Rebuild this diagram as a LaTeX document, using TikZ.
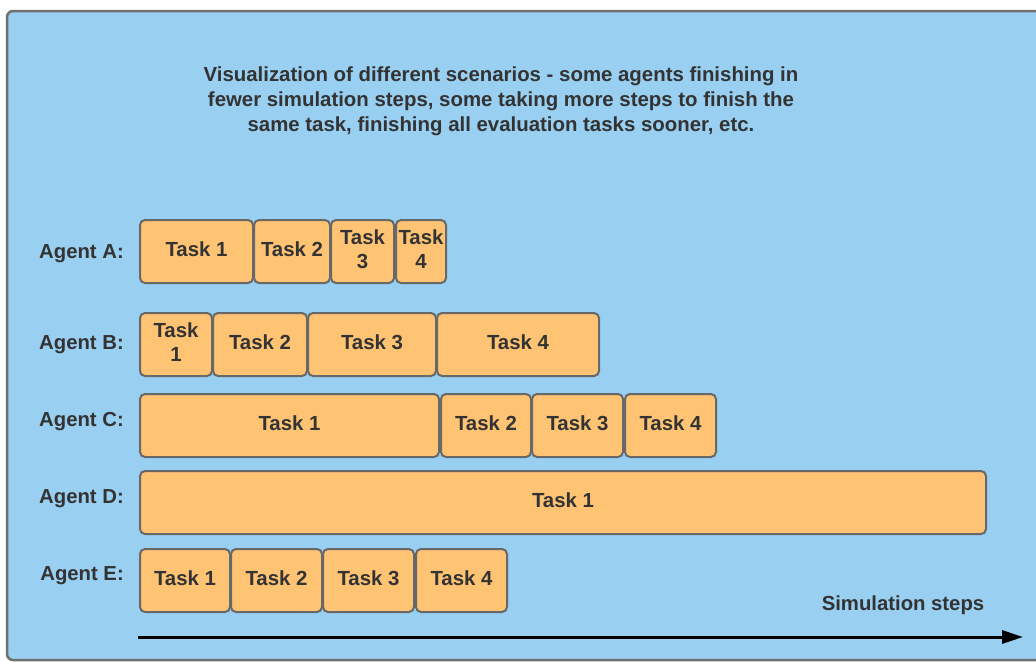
\documentclass[tikz,border=0pt]{standalone}
\usepackage{fontspec}
\setmainfont{Liberation Sans}
\usetikzlibrary{arrows.meta}
\definecolor{bgblue}{RGB}{153,207,241}
\definecolor{frame}{RGB}{112,112,112}
\definecolor{boxfill}{RGB}{255,195,116}
\definecolor{boxline}{RGB}{104,104,104}
\definecolor{txt}{RGB}{51,51,51}
\tikzset{
  lbl/.style={font=\bfseries\fontsize{20.3}{25}\selectfont, text=txt, inner sep=0pt},
  task/.style={draw=boxline, line width=2pt, fill=boxfill, rounded corners=5pt,
    anchor=north west, minimum height=63pt, inner sep=0pt, outer sep=0pt,
    align=center, text depth=4pt, font=\bfseries\fontsize{20.4}{24}\selectfont, text=txt},
  agent/.style={lbl, anchor=east},
  axis/.style={line width=3pt, -{Triangle[length=21pt,width=13pt]}}
}
\newcommand{\tbox}[5]{\node[task, minimum width=#4pt] (#1) at (#2,#3) {#5};}
\begin{document}
\begin{tikzpicture}[x=1pt,y=-1pt]
\useasboundingbox (0,0) rectangle (1036,662);
\begin{scope}
\clip (0,0) rectangle (1036,662);
\draw[frame, line width=2.5pt, fill=bgblue, rounded corners=6pt] (7,11) rectangle (1060,660);
\end{scope}
\node[lbl, align=center, font=\bfseries\fontsize{20.4}{25}\selectfont] (title) at (501,101) {Visualization of different scenarios - some agents finishing in\\fewer simulation steps, some taking more steps to finish the\\same task, finishing all evaluation tasks sooner, etc.};
% Agent A
\node[agent] (agA) at (124,254) {Agent A:};
\tbox{a1}{140}{220}{113}{Task 1}
\tbox{a2}{254}{220}{76}{Task 2}
\tbox{a3}{331}{220}{63}{Task\\3}
\tbox{a4}{396}{220}{50}{Task\\4}
% Agent B
\node[agent] (agB) at (124,345) {Agent B:};
\tbox{b1}{140}{313}{72}{Task\\1}
\tbox{b2}{213}{313}{94}{Task 2}
\tbox{b3}{308}{313}{128}{Task 3}
\tbox{b4}{437}{313}{162}{Task 4}
% Agent C
\node[agent] (agC) at (124,422) {Agent C:};
\tbox{c1}{140}{394}{299}{Task 1}
\tbox{c2}{441}{394}{90}{Task 2}
\tbox{c3}{532}{394}{91}{Task 3}
\tbox{c4}{625}{394}{91}{Task 4}
% Agent D
\node[agent] (agD) at (124,499) {Agent D:};
\tbox{d1}{140}{471}{846}{Task 1}
% Agent E
\node[agent] (agE) at (124,576) {Agent E:};
\tbox{e1}{140}{549}{90}{Task 1}
\tbox{e2}{231}{549}{91}{Task 2}
\tbox{e3}{323}{549}{91}{Task 3}
\tbox{e4}{416}{549}{91}{Task 4}
% axis
\node[lbl] (steps) at (903,605) {Simulation steps};
\coordinate (axs) at (138,637);
\coordinate (axe) at (1023,637);
\draw[axis] (axs) -- (axe);
\end{tikzpicture}
\end{document}
